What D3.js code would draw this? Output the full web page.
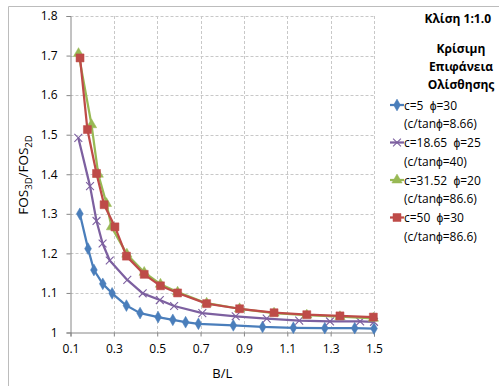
<!DOCTYPE html>
<html>
<head>
<meta charset="utf-8">
<script src="https://cdn.jsdelivr.net/npm/d3@7"></script>
<style>
  body { margin: 0; background: #fff; }
  svg { display: block; font-family: "Open Sans", "Liberation Sans", sans-serif; }
  text { white-space: pre; }
</style>
</head>
<body>
<div id="chart"></div>
<script>
// values
var xTicks = [0.1, 0.3, 0.5, 0.7, 0.9, 1.1, 1.3, 1.5];
var yTicks = [1, 1.1, 1.2, 1.3, 1.4, 1.5, 1.6, 1.7, 1.8];

var blueX = [0.143, 0.181, 0.208, 0.249, 0.292, 0.358, 0.421, 0.504, 0.572, 0.631, 0.690, 0.851, 0.986, 1.128, 1.273, 1.411, 1.5];
var blueY = [1.30, 1.212, 1.158, 1.123, 1.099, 1.068, 1.049, 1.039, 1.032, 1.026, 1.022, 1.018, 1.014, 1.012, 1.011, 1.011, 1.010];

var purpleX = [0.136, 0.19, 0.22, 0.248, 0.281, 0.362, 0.433, 0.512, 0.578, 0.708, 0.862, 1.005, 1.155, 1.297, 1.436, 1.5];
var purpleY = [1.492, 1.37, 1.282, 1.225, 1.182, 1.133, 1.099, 1.082, 1.067, 1.049, 1.041, 1.035, 1.030, 1.028, 1.028, 1.027];

var greenX = [0.137, 0.197, 0.228, 0.266, 0.289, 0.36, 0.44, 0.515, 0.594, 0.728, 0.88, 1.039, 1.19, 1.343, 1.497];
var greenY = [1.705, 1.525, 1.40, 1.326, 1.267, 1.198, 1.152, 1.122, 1.102, 1.074, 1.060, 1.049, 1.044, 1.040, 1.036];

var redX = [0.144, 0.178, 0.22, 0.255, 0.305, 0.358, 0.44, 0.515, 0.594, 0.728, 0.88, 1.039, 1.19, 1.343, 1.497];
var redY = [1.694, 1.513, 1.402, 1.323, 1.267, 1.193, 1.147, 1.118, 1.100, 1.073, 1.060, 1.050, 1.045, 1.042, 1.039];

var seriesNames = ["c=5  ϕ=30", "c=18.65  ϕ=25", "c=31.52  ϕ=20", "c=50  ϕ=30"];
var seriesNotes = ["(c/tanϕ=8.66)", "(c/tanϕ=40)", "(c/tanϕ=86.6)", "(c/tanϕ=86.6)"];

var series = [
  { name: seriesNames[0], note: seriesNotes[0], xs: blueX, ys: blueY, color: "#4a7ebb", marker: "diamond" },
  { name: seriesNames[1], note: seriesNotes[1], xs: purpleX, ys: purpleY, color: "#7d60a0", marker: "cross" },
  { name: seriesNames[2], note: seriesNotes[2], xs: greenX, ys: greenY, color: "#98b954", marker: "triangle" },
  { name: seriesNames[3], note: seriesNotes[3], xs: redX, ys: redY, color: "#be4b48", marker: "square" }
];

var W = 499, H = 386;
var svg = d3.select("#chart").append("svg").attr("width", W).attr("height", H);

// outer chart border (cropped on right & bottom)
svg.append("path")
  .attr("d", "M8.5," + H + "V6.5H" + W)
  .attr("fill", "none").attr("stroke", "#bcbcbc").attr("stroke-width", 1);

var x = d3.scaleLinear().domain([0.1, 1.5]).range([70.5, 374]);
var y = d3.scaleLinear().domain([1, 1.8]).range([332.5, 16]);

// gridlines
svg.append("g").selectAll("line").data(yTicks.slice(1)).enter().append("line")
  .attr("x1", x(0.1)).attr("x2", x(1.5))
  .attr("y1", function (d) { return Math.round(y(d)) + 0.5; })
  .attr("y2", function (d) { return Math.round(y(d)) + 0.5; })
  .attr("stroke", "#c8c8c8").attr("stroke-dasharray", "3,2");
svg.append("g").selectAll("line").data(xTicks.slice(1)).enter().append("line")
  .attr("x1", function (d) { return Math.round(x(d)) + 0.5; })
  .attr("x2", function (d) { return Math.round(x(d)) + 0.5; })
  .attr("y1", y(1.8)).attr("y2", y(1))
  .attr("stroke", "#c8c8c8").attr("stroke-dasharray", "3,2");

// axes
var xAxis = svg.append("g")
  .attr("transform", "translate(0," + y(1) + ")")
  .call(d3.axisBottom(x).tickValues(xTicks).tickSize(4).tickPadding(8)
    .tickFormat(function (d) { return d3.format(".1f")(d); }));
var yAxis = svg.append("g")
  .attr("transform", "translate(" + x(0.1) + ",0)")
  .call(d3.axisLeft(y).tickValues(yTicks).tickSize(4).tickPadding(9)
    .tickFormat(function (d) { return d === 1 ? "1" : d3.format(".1f")(d); }));

[xAxis, yAxis].forEach(function (a) {
  a.select(".domain").attr("stroke", "#868686");
  a.selectAll(".tick line").attr("stroke", "#868686");
  a.selectAll("text").attr("fill", "#000").style("font-size", "12px")
    .style("font-family", "'Open Sans', sans-serif");
});

// series lines + markers
var line = d3.line()
  .x(function (d) { return x(d[0]); })
  .y(function (d) { return y(d[1]); });

var symbolTypes = {
  diamond: d3.symbol().type(d3.symbolDiamond).size(40),
  cross: d3.symbol().type(d3.symbolX).size(42),
  triangle: d3.symbol().type(d3.symbolTriangle).size(46),
  square: d3.symbol().type(d3.symbolSquare).size(64)
};

function drawMarker(g, kind, color) {
  var p = g.append("path").attr("d", symbolTypes[kind]());
  if (kind === "cross") {
    p.attr("fill", "none").attr("stroke", color).attr("stroke-width", 1.1);
  } else {
    p.attr("fill", color).attr("stroke", color).attr("stroke-width", 0.5);
  }
}

series.forEach(function (s) {
  var pts = s.xs.map(function (v, i) { return [v, s.ys[i]]; });
  svg.append("path").datum(pts)
    .attr("d", line)
    .attr("fill", "none")
    .attr("stroke", s.color)
    .attr("stroke-width", 2.25)
    .attr("stroke-linejoin", "round");
  var mg = svg.append("g");
  pts.forEach(function (p) {
    var g = mg.append("g").attr("transform", "translate(" + x(p[0]) + "," + y(p[1]) + ")");
    drawMarker(g, s.marker, s.color);
  });
});

// axis titles
svg.append("text")
  .attr("x", x(0.8)).attr("y", 378)
  .attr("text-anchor", "middle")
  .style("font-size", "13px")
  .text("B/L");

var yt = svg.append("text")
  .attr("transform", "translate(28,175) rotate(-90)")
  .attr("text-anchor", "middle")
  .style("font-size", "13.5px");
yt.append("tspan").text("FOS");
yt.append("tspan").attr("dy", 4).style("font-size", "9.5px").text("3D");
yt.append("tspan").attr("dy", -4).text("/FOS");
yt.append("tspan").attr("dy", 4).style("font-size", "9.5px").text("2D");

// titles on the right
svg.append("text")
  .attr("x", 491).attr("y", 23)
  .attr("text-anchor", "end")
  .style("font-size", "12px").style("font-weight", "bold")
  .text("Κλίση 1:1.0");

["Κρίσιμη", "Επιφάνεια", "Ολίσθησης"].forEach(function (t, i) {
  svg.append("text")
    .attr("x", 461).attr("y", 53 + i * 18)
    .attr("text-anchor", "middle")
    .style("font-size", "12px").style("font-weight", "bold")
    .text(t);
});

// legend
var legend = svg.append("g");
series.forEach(function (s, i) {
  var ly = 105 + i * 37.5;
  var g = legend.append("g").attr("transform", "translate(0," + ly + ")");
  g.append("line").attr("x1", 390).attr("x2", 404).attr("y1", 0).attr("y2", 0)
    .attr("stroke", s.color).attr("stroke-width", 2.25);
  var m = g.append("g").attr("transform", "translate(397,0)");
  drawMarker(m, s.marker, s.color);
  g.append("text").attr("x", 404).attr("y", 4.5)
    .style("font-size", "12px").text(s.name);
  g.append("text").attr("x", 404).attr("y", 23)
    .style("font-size", "12px").text(s.note);
});
</script>
</body>
</html>
